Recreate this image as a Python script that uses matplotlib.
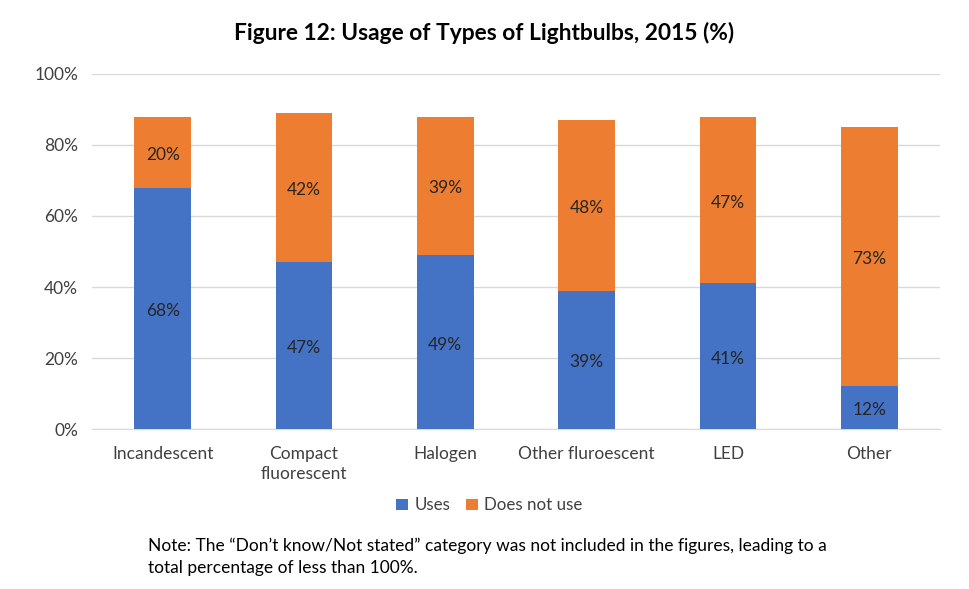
import matplotlib.pyplot as plt
import numpy as np

plt.rcParams['font.family'] = ['Lato', 'DejaVu Sans']

categories = ['Incandescent', 'Compact\nfluorescent', 'Halogen', 'Other fluroescent', 'LED', 'Other']
uses = [68, 47, 49, 39, 41, 12]
does_not_use = [20, 42, 39, 48, 47, 73]

blue = '#4472C4'
orange = '#ED7D31'

fig = plt.figure(figsize=(9.69, 5.89), dpi=100)
ax = fig.add_axes([0.095, 0.2716, 0.875, 0.6028])

x = np.arange(len(categories))
b1 = ax.bar(x, uses, width=0.4, color=blue, label='Uses', zorder=3)
b2 = ax.bar(x, does_not_use, width=0.4, bottom=uses, color=orange, label='Does not use', zorder=3)

for i in range(len(categories)):
    ax.annotate(f'{uses[i]}%', (x[i], uses[i] / 2), xytext=(0, -2.5), textcoords='offset pixels',
                ha='center', va='center', fontsize=12.5, color='#262626', zorder=4)
    ax.annotate(f'{does_not_use[i]}%', (x[i], uses[i] + does_not_use[i] / 2), xytext=(0, -2.5),
                textcoords='offset pixels', ha='center', va='center', fontsize=12.5, color='#262626', zorder=4)

ax.set_xlim(-0.5, len(categories) - 0.5)
ax.set_ylim(0, 100)
ax.set_yticks(range(0, 101, 20))
ax.set_yticklabels([f'{v}%' for v in range(0, 101, 20)])
ax.set_xticks(x)
ax.set_xticklabels(categories, linespacing=1.35)
ax.tick_params(axis='both', length=0, labelsize=12.5, colors='#404040')
ax.tick_params(axis='x', pad=12)
ax.tick_params(axis='y', pad=10)
ax.yaxis.grid(True, color='#D9D9D9', linewidth=1, zorder=0)
for s in ['top', 'right', 'left']:
    ax.spines[s].set_visible(False)
ax.spines['bottom'].set_color('#D9D9D9')

fig.text(0.5, 0.944, 'Figure 12: Usage of Types of Lightbulbs, 2015 (%)', ha='center', va='center',
         fontsize=16.4, fontweight='bold', color='black')

fig.legend(handles=[b1, b2], loc='center', bbox_to_anchor=(0.505, 0.142), ncol=2, frameon=False,
           fontsize=12.2, handlelength=0.7, handleheight=0.7, columnspacing=0.9, handletextpad=0.4,
           labelcolor='#404040')

fig.text(0.153, 0.054, 'Note: The \u201cDon\u2019t know/Not stated\u201d category was not included in the figures, leading to a\n'
         'total percentage of less than 100%.', ha='left', va='center', fontsize=12.5, color='black',
         linespacing=1.45)

fig.savefig('out.png', dpi=100)
